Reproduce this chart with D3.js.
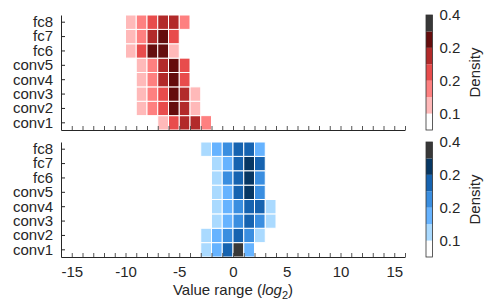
<!DOCTYPE html>
<html>
<head>
<meta charset="utf-8">
<script src="https://cdn.jsdelivr.net/npm/d3@7"></script>
<style>
    body { margin: 0; background: #fff; }
    text { font-family: "Liberation Sans", Arial, sans-serif; fill: #262626; }
</style>
</head>
<body>
<div id="chart"></div>
<script>
const layers = ["conv1", "conv2", "conv3", "conv4", "conv5", "fc6", "fc7", "fc8"];

// first log2 bin of every layer, then the density of each following bin
const weightStart = [-7, -9, -9, -9, -9, -10, -10, -10];
const weightDensity = [
    [0.09, 0.18, 0.21, 0.21, 0.13],
    [0.08, 0.13, 0.17, 0.26, 0.20, 0.09],
    [0.09, 0.14, 0.18, 0.25, 0.20, 0.09],
    [0.10, 0.15, 0.20, 0.27, 0.17],
    [0.10, 0.14, 0.21, 0.27, 0.17],
    [0.10, 0.18, 0.28, 0.26, 0.09],
    [0.09, 0.14, 0.21, 0.27, 0.18],
    [0.09, 0.13, 0.17, 0.20, 0.21, 0.13]
];

const activationStart = [-3, -3, -2, -2, -2, -2, -2, -3];
const activationDensity = [
    [0.10, 0.14, 0.21, 0.36, 0.14],
    [0.09, 0.14, 0.18, 0.20, 0.17, 0.10],
    [0.10, 0.14, 0.17, 0.21, 0.17, 0.09],
    [0.09, 0.15, 0.17, 0.20, 0.20, 0.10],
    [0.10, 0.15, 0.21, 0.26, 0.17],
    [0.10, 0.17, 0.21, 0.27, 0.17],
    [0.09, 0.14, 0.20, 0.27, 0.20],
    [0.10, 0.15, 0.18, 0.20, 0.21, 0.14]
];

// colour bin edges of the density colour bar
const densityBounds = [0, 0.08, 0.12, 0.16, 0.19, 0.22, 0.3, 0.4];
const barTickIndex = [1, 3, 5, 7];
const xTicks = [-15, -10, -5, 0, 5, 10, 15];

const redColors = ["#ffffff", "#ffb9b9", "#fe8080", "#e84c4c", "#b22a2a", "#650d0d", "#383838"];
const blueColors = ["#ffffff", "#aadaff", "#66b3ff", "#3a8ee0", "#1663b0", "#073763", "#383838"];

const width = 491;
const height = 303;
const left = 61, right = 405;

const svg = d3.select("#chart")
              .append("svg")
              .attr("width", width)
              .attr("height", height);

const x = d3.scaleLinear()
            .domain([-16, 16])
            .range([left, right]);

function drawPanel(top, bottom, starts, densities, colors, showLabels) {
    const y = d3.scaleBand()
                .domain(layers.slice().reverse())
                .range([top, bottom]);

    const color = d3.scaleThreshold()
                    .domain(densityBounds.slice(1, 7))
                    .range(colors);

    const cells = [];
    layers.forEach(function (layer, i) {
        densities[i].forEach(function (v, j) {
            cells.push({layer: layer, bin: starts[i] + j, value: v});
        });
    });

    svg.append("g")
       .selectAll("rect")
       .data(cells)
       .enter()
       .append("rect")
       .attr("x", function (d) { return x(d.bin); })
       .attr("y", function (d) { return y(d.layer); })
       .attr("width", x(1) - x(0))
       .attr("height", y.bandwidth())
       .attr("fill", function (d) { return color(d.value); })
       .attr("stroke", "white")
       .attr("stroke-width", 1);

    const xAxis = svg.append("g")
                     .attr("transform", "translate(0," + bottom + ")")
                     .call(d3.axisBottom(x)
                             .tickValues(d3.range(-16, 17))
                             .tickSizeInner(-4)
                             .tickSizeOuter(0)
                             .tickPadding(9)
                             .tickFormat(function (d) {
                                 return showLabels && xTicks.indexOf(d) >= 0 ? d : "";
                             }));
    xAxis.select(".domain").attr("stroke", "#262626");
    xAxis.selectAll(".tick line").attr("stroke", "#555");
    xAxis.selectAll("text")
         .style("font-size", "15px")
         .attr("fill", "#262626");

    const yAxis = svg.append("g")
                     .attr("transform", "translate(" + left + ",0)")
                     .call(d3.axisLeft(y)
                             .tickSizeInner(-4)
                             .tickSizeOuter(0)
                             .tickPadding(8));
    yAxis.select(".domain").attr("stroke", "#262626");
    yAxis.selectAll(".tick line").attr("stroke", "#262626");
    yAxis.selectAll("text")
         .style("font-size", "15px")
         .attr("fill", "#262626");

    // colour bar
    const barX = 426, barW = 6.5;
    const by = d3.scaleLinear()
                 .domain([0, densityBounds.length - 1])
                 .range([bottom, top]);

    svg.append("g")
       .selectAll("rect")
       .data(colors)
       .enter()
       .append("rect")
       .attr("x", barX)
       .attr("y", function (d, i) { return by(i + 1); })
       .attr("width", barW)
       .attr("height", function (d, i) { return by(i) - by(i + 1); })
       .attr("fill", function (d) { return d; });

    svg.append("rect")
       .attr("x", barX)
       .attr("y", top)
       .attr("width", barW)
       .attr("height", bottom - top)
       .attr("fill", "none")
       .attr("stroke", "#333")
       .attr("stroke-width", 0.8);

    const barAxis = svg.append("g")
                       .attr("transform", "translate(" + (barX + barW) + ",0)")
                       .call(d3.axisRight(by)
                               .tickValues(barTickIndex)
                               .tickSize(0)
                               .tickPadding(7)
                               .tickFormat(function (i) {
                                   return d3.format(".1f")(densityBounds[i]);
                               }));
    barAxis.select(".domain").remove();
    barAxis.selectAll("text")
           .style("font-size", "15px")
           .attr("fill", "#262626");

    svg.append("text")
       .attr("transform", "translate(480," + ((top + bottom) / 2) + ")rotate(-90)")
       .attr("text-anchor", "middle")
       .style("font-size", "15px")
       .text("Density");
}

drawPanel(15, 130, weightStart, weightDensity, redColors, false);
drawPanel(142, 257, activationStart, activationDensity, blueColors, true);

const label = svg.append("text")
                 .attr("x", x(0))
                 .attr("y", 295)
                 .attr("text-anchor", "middle")
                 .style("font-size", "15px");
label.append("tspan").text("Value range (");
label.append("tspan").style("font-style", "italic").text("log");
label.append("tspan").attr("dy", 4).style("font-size", "11px").text("2");
label.append("tspan").attr("dy", -4).text(")");
</script>
</body>
</html>
